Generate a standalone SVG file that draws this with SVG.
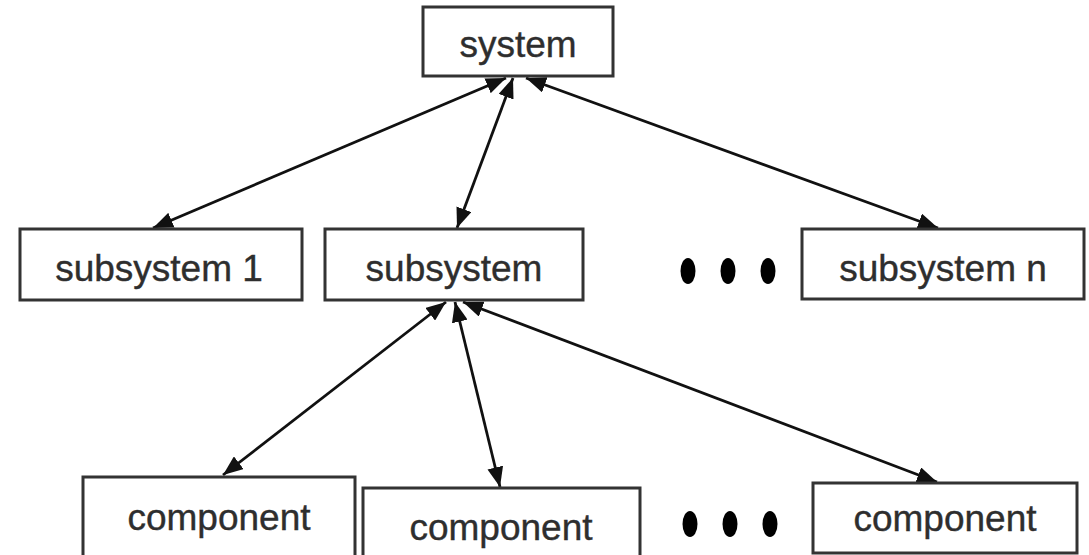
<svg xmlns="http://www.w3.org/2000/svg" width="1089" height="555" viewBox="0 0 1089 555">
  <style>
    .box { fill: #ffffff; stroke: #333333; stroke-width: 3; }
    .label { font-family: "Liberation Sans", Arial, sans-serif; font-size: 37px; fill: #2e2e2e; stroke: #2e2e2e; stroke-width: 0.4; text-anchor: middle; }
    .link { stroke: #111111; stroke-width: 2.8; fill: none; marker-start: url(#head); marker-end: url(#head); }
    .dot { fill: #000000; }
  </style>
  <defs>
    <marker id="head" viewBox="0 0 20 16" refX="20" refY="8" markerWidth="20" markerHeight="16" markerUnits="userSpaceOnUse" orient="auto-start-reverse">
      <path d="M0,0 L20,8 L0,16 z" fill="#111111"/>
    </marker>
  </defs>
  <rect width="1089" height="555" fill="#ffffff"/>

  <!-- connectors -->
  <g id="connectors">
    <line class="link" x1="506" y1="78" x2="153" y2="228"/>
    <line class="link" x1="513" y1="78" x2="457" y2="228"/>
    <line class="link" x1="526" y1="78" x2="938" y2="228"/>
    <line class="link" x1="446" y1="302" x2="223" y2="475"/>
    <line class="link" x1="455" y1="302" x2="500" y2="487"/>
    <line class="link" x1="463" y1="302" x2="937" y2="482"/>
  </g>

  <!-- top level -->
  <g id="system">
    <rect class="box" x="423" y="7" width="190" height="69"/>
    <text class="label" x="518" y="57">system</text>
  </g>

  <!-- second level -->
  <g id="subsystem-1">
    <rect class="box" x="20" y="229" width="282" height="71"/>
    <text class="label" x="159" y="281">subsystem 1</text>
  </g>
  <g id="subsystem">
    <rect class="box" x="325" y="229" width="258" height="71"/>
    <text class="label" x="454" y="281">subsystem</text>
  </g>
  <g id="subsystem-ellipsis">
    <ellipse class="dot" cx="688" cy="271" rx="7.5" ry="13"/>
    <ellipse class="dot" cx="728" cy="271" rx="7.5" ry="13"/>
    <ellipse class="dot" cx="768" cy="271" rx="7.5" ry="13"/>
  </g>
  <g id="subsystem-n">
    <rect class="box" x="802" y="229" width="282" height="70"/>
    <text class="label" x="943" y="281">subsystem n</text>
  </g>

  <!-- third level -->
  <g id="component-1">
    <rect class="box" x="83" y="477" width="272" height="90"/>
    <text class="label" x="219" y="530">component</text>
  </g>
  <g id="component-2">
    <rect class="box" x="363" y="488" width="277" height="80"/>
    <text class="label" x="501" y="540">component</text>
  </g>
  <g id="component-ellipsis">
    <ellipse class="dot" cx="690" cy="524" rx="7.5" ry="13"/>
    <ellipse class="dot" cx="730" cy="524" rx="7.5" ry="13"/>
    <ellipse class="dot" cx="770" cy="524" rx="7.5" ry="13"/>
  </g>
  <g id="component-n">
    <rect class="box" x="813" y="483" width="264" height="70"/>
    <text class="label" x="945" y="531">component</text>
  </g>
</svg>
